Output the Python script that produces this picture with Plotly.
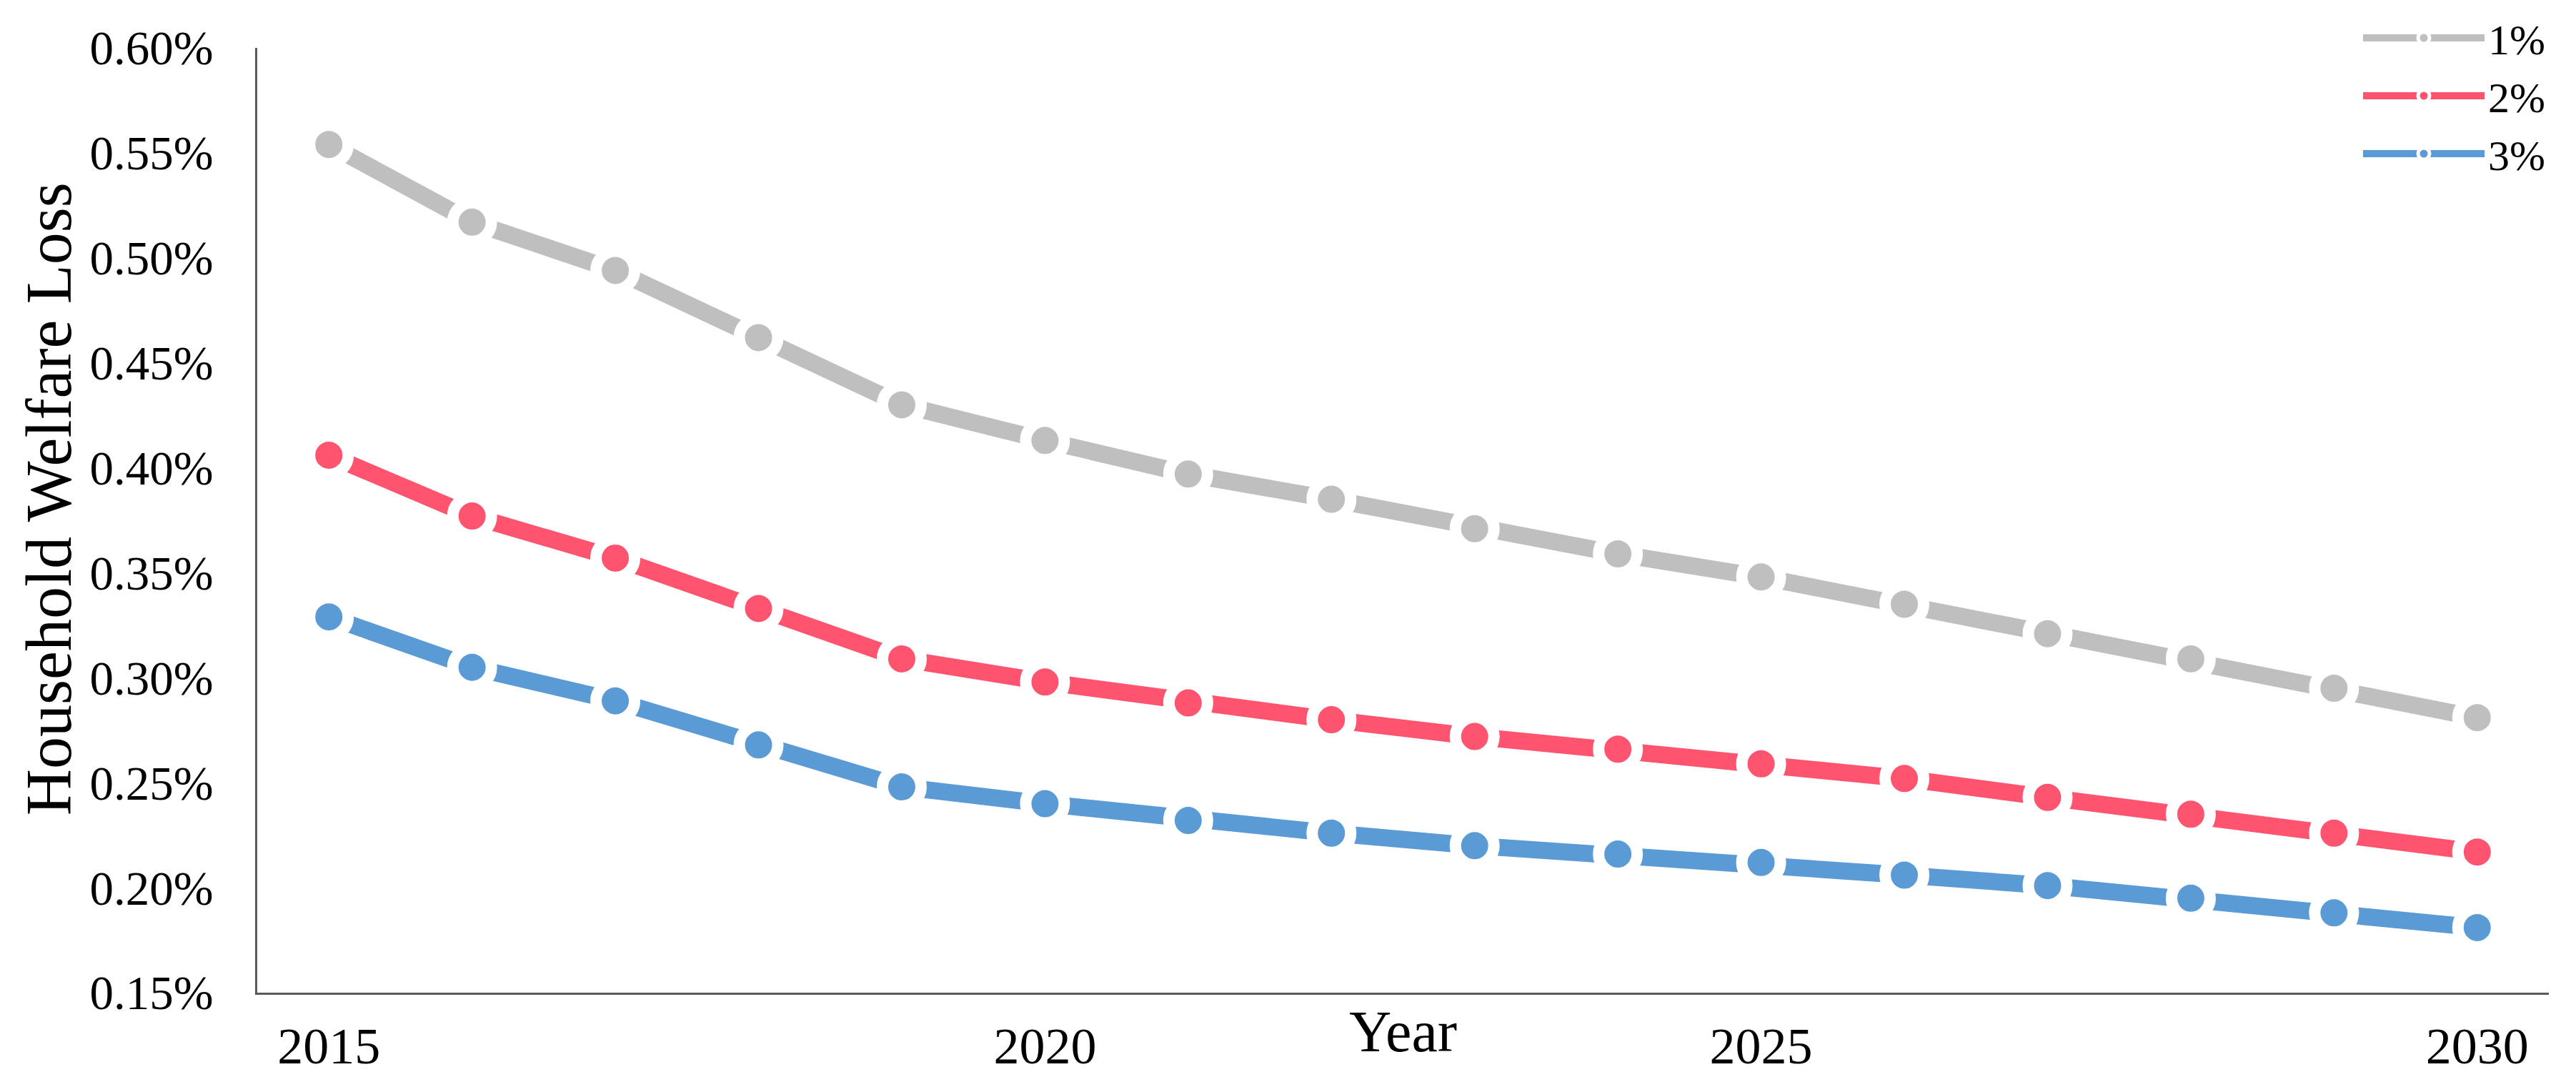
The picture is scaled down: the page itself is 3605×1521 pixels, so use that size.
import plotly.graph_objects as go

years = list(range(2015, 2031))
s1 = [0.554, 0.517, 0.494, 0.462, 0.430, 0.413, 0.397, 0.385, 0.371, 0.359, 0.348, 0.335, 0.321, 0.309, 0.295, 0.281]
s2 = [0.406, 0.377, 0.357, 0.333, 0.309, 0.298, 0.288, 0.280, 0.272, 0.266, 0.259, 0.252, 0.243, 0.235, 0.226, 0.217]
s3 = [0.329, 0.305, 0.289, 0.268, 0.248, 0.240, 0.232, 0.226, 0.220, 0.216, 0.212, 0.206, 0.201, 0.195, 0.188, 0.181]
names = ["1%", "2%", "3%"]
colors = ["#BFBFBF", "#FF5470", "#5B9BD5"]
ytick_vals = [0.15, 0.20, 0.25, 0.30, 0.35, 0.40, 0.45, 0.50, 0.55, 0.60]
xtick_vals = [2015, 2020, 2025, 2030]

FONT = "Liberation Serif, Times New Roman, serif"

fig = go.Figure()
for name, vals, col in zip(names, [s1, s2, s3], colors):
    fig.add_trace(go.Scatter(
        x=years, y=vals, name=name, mode="lines+markers",
        line=dict(color=col, width=24),
        marker=dict(color=col, size=54, line=dict(color="white", width=16)),
    ))

W, H = 3605, 1521
L, R, T, B = 352, 3559, 59, 1381
fig.update_layout(
    width=W, height=H,
    margin=dict(l=L, r=W - R, t=T, b=H - B, autoexpand=False),
    paper_bgcolor="white", plot_bgcolor="white",
    font=dict(family=FONT, size=64, color="black"),
    showlegend=True,
    legend=dict(
        x=1.0, y=1.045, xref="paper", yref="paper", xanchor="right", yanchor="top",
        bgcolor="rgba(0,0,0,0)", font=dict(size=60), itemwidth=170,
        tracegroupgap=0, itemsizing="trace",
    ),
    xaxis=dict(
        range=[2014.5, 2030.5], tickmode="array", tickvals=xtick_vals,
        ticktext=[str(v) for v in xtick_vals],
        showgrid=False, zeroline=False, showline=True, linecolor="#595959", linewidth=3,
        ticks="", ticklabelstandoff=10, tickfont=dict(size=72),
    ),
    yaxis=dict(
        range=[0.15, 0.60], tickmode="array", tickvals=ytick_vals,
        ticktext=["%.2f%%" % v for v in ytick_vals],
        showgrid=False, zeroline=False, showline=True, linecolor="#595959", linewidth=3,
        ticks="", ticklabelstandoff=45, tickfont=dict(size=67),
    ),
    annotations=[
        dict(text="Year", xref="paper", yref="paper", x=0.5, y=0, xanchor="center",
             yanchor="middle", yshift=-54, showarrow=False, font=dict(size=82)),
        dict(text="Household Welfare Loss", xref="paper", yref="paper", x=0, y=0.5,
             xanchor="center", yanchor="middle", xshift=-292, yshift=30, textangle=-90,
             showarrow=False, font=dict(size=90)),
    ],
)
fig.write_html("out.html")
